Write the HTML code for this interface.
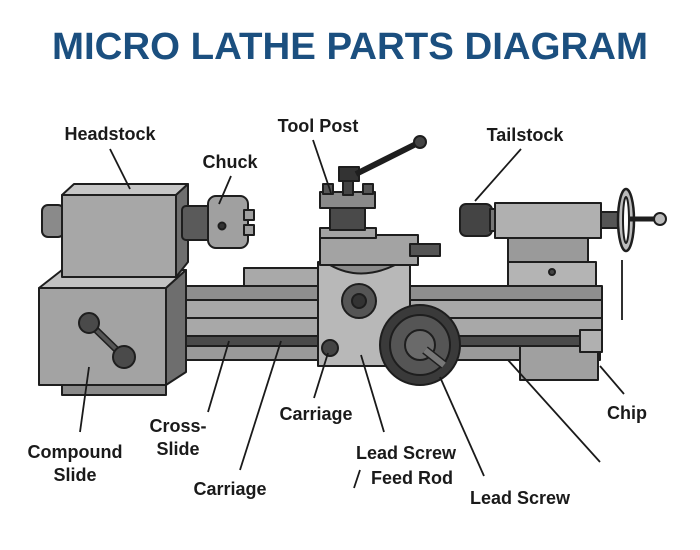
<!DOCTYPE html>
<html><head><meta charset="utf-8"><style>
html,body{margin:0;padding:0;background:#fff;}
svg{display:block;}
text{font-family:"Liberation Sans",sans-serif;font-weight:bold;}
</style></head><body>
<svg width="700" height="550" viewBox="0 0 700 550" xmlns="http://www.w3.org/2000/svg">
<rect width="700" height="550" fill="#fff"/>
<text x="350" y="59" text-anchor="middle" font-size="38" fill="#1b4f7f" textLength="596" lengthAdjust="spacingAndGlyphs">MICRO LATHE PARTS DIAGRAM</text>

<g stroke="#1e1e1e" stroke-width="2" stroke-linejoin="round">
<!-- bed back rail -->
<rect x="244" y="268" width="78" height="22" fill="#a9a9a9"/>
<!-- tailstock base -->
<rect x="508" y="236" width="80" height="30" fill="#9a9a9a"/>
<rect x="508" y="262" width="88" height="30" fill="#b4b4b4"/>
<circle cx="552" cy="272" r="3" fill="#444"/>
<!-- bed -->
<rect x="172" y="286" width="430" height="14" fill="#8e8e8e"/>
<rect x="172" y="300" width="430" height="36" fill="#a8a8a8"/>
<line x1="172" y1="318" x2="602" y2="318"/>
<rect x="170" y="336" width="430" height="10" fill="#4a4a4a"/>
<rect x="172" y="346" width="428" height="14" fill="#9a9a9a"/>
<rect x="520" y="346" width="78" height="34" fill="#a0a0a0"/>
<rect x="580" y="330" width="22" height="22" fill="#b0b0b0"/>
<!-- headstock lower -->
<polygon points="39,288 62,270 186,270 166,288" fill="#c2c2c2"/>
<polygon points="166,288 186,270 186,372 166,385" fill="#6e6e6e"/>
<rect x="39" y="288" width="127" height="97" fill="#a3a3a3"/>
<rect x="62" y="385" width="104" height="10" fill="#8a8a8a"/>
<!-- headstock top -->
<rect x="42" y="205" width="22" height="32" rx="6" fill="#8a8a8a"/>
<polygon points="62,195 74,184 188,184 176,195" fill="#c6c6c6"/>
<polygon points="176,195 188,184 188,262 176,277" fill="#6e6e6e"/>
<rect x="62" y="195" width="114" height="82" fill="#a7a7a7"/>
<!-- handle -->
<line x1="89" y1="323" x2="124" y2="357" stroke-width="7"/>
<line x1="89" y1="323" x2="124" y2="357" stroke="#555" stroke-width="4"/>
<circle cx="89" cy="323" r="10" fill="#4a4a4a"/>
<circle cx="124" cy="357" r="11" fill="#4a4a4a"/>
<!-- chuck -->
<rect x="182" y="206" width="30" height="34" rx="4" fill="#5a5a5a"/>
<rect x="208" y="196" width="40" height="52" rx="8" fill="#a0a0a0"/>
<rect x="244" y="210" width="10" height="10" fill="#a0a0a0"/>
<rect x="244" y="225" width="10" height="10" fill="#a0a0a0"/>
<circle cx="222" cy="226" r="3.5" fill="#333"/>
<!-- carriage apron -->
<rect x="318" y="262" width="92" height="104" fill="#b8b8b8"/>
<!-- saddle / compound -->
<path d="M330,265 Q360,282 395,265 Z" fill="#8a8a8a"/>
<rect x="320" y="235" width="98" height="30" fill="#a3a3a3"/>
<rect x="410" y="244" width="30" height="12" fill="#555"/>
<rect x="320" y="228" width="56" height="10" fill="#a3a3a3"/>
<!-- tool post -->
<rect x="330" y="208" width="35" height="22" fill="#4a4a4a"/>
<rect x="320" y="192" width="55" height="16" fill="#8a8a8a"/>
<rect x="323" y="184" width="10" height="10" fill="#555"/>
<rect x="363" y="184" width="10" height="10" fill="#555"/>
<rect x="343" y="170" width="10" height="25" fill="#444"/>
<rect x="339" y="167" width="20" height="14" fill="#333"/>
<line x1="356" y1="174" x2="418" y2="143" stroke-width="6"/>
<circle cx="420" cy="142" r="6" fill="#444"/>
<!-- cross-slide wheel -->
<circle cx="359" cy="301" r="17" fill="#555"/>
<circle cx="359" cy="301" r="7" fill="#333"/>
<circle cx="330" cy="348" r="8" fill="#444"/>
<!-- big handwheel -->
<circle cx="420" cy="345" r="40" fill="#3a3a3a"/>
<circle cx="420" cy="345" r="30" fill="#555"/>
<circle cx="420" cy="345" r="15" fill="#6a6a6a"/>
<line x1="425" y1="350" x2="444" y2="365" stroke-width="9"/>
<line x1="425" y1="350" x2="444" y2="365" stroke="#777" stroke-width="6"/>
<!-- tailstock -->
<rect x="460" y="204" width="32" height="32" rx="6" fill="#444"/>
<rect x="490" y="209" width="8" height="22" fill="#777"/>
<rect x="495" y="203" width="106" height="35" fill="#b0b0b0"/>
<rect x="601" y="212" width="20" height="16" fill="#555"/>
<ellipse cx="626" cy="220" rx="8" ry="31" fill="#bbb" stroke-width="2.5"/>
<ellipse cx="626" cy="220" rx="3" ry="23" fill="#fff"/>
<line x1="630" y1="219" x2="656" y2="219" stroke-width="5"/>
<circle cx="660" cy="219" r="6" fill="#bbb"/>
</g>

<!-- leader lines -->
<g stroke="#1a1a1a" stroke-width="1.8" fill="none">
<line x1="110" y1="149" x2="130" y2="189"/>
<line x1="231" y1="176" x2="219" y2="204"/>
<line x1="313" y1="140" x2="331" y2="193"/>
<line x1="521" y1="149" x2="475" y2="201"/>
<line x1="622" y1="260" x2="622" y2="320"/>
<line x1="89" y1="367" x2="80" y2="432"/>
<line x1="229" y1="341" x2="208" y2="412"/>
<line x1="281" y1="341" x2="240" y2="470"/>
<line x1="328" y1="353" x2="314" y2="398"/>
<line x1="361" y1="355" x2="384" y2="432"/>
<line x1="440" y1="377" x2="484" y2="476"/>
<line x1="508" y1="360" x2="600" y2="462"/>
<line x1="600" y1="366" x2="624" y2="394"/>
<line x1="360" y1="470" x2="354" y2="488"/>
</g>

<g font-size="18" fill="#1a1a1a" text-anchor="middle">
<text x="110" y="140">Headstock</text>
<text x="230" y="168">Chuck</text>
<text x="318" y="132">Tool Post</text>
<text x="525" y="141">Tailstock</text>
<text x="75" y="458">Compound</text>
<text x="75" y="481">Slide</text>
<text x="178" y="432">Cross-</text>
<text x="178" y="455">Slide</text>
<text x="316" y="420">Carriage</text>
<text x="230" y="495">Carriage</text>
<text x="406" y="459">Lead Screw</text>
<text x="412" y="484">Feed Rod</text>
<text x="520" y="504">Lead Screw</text>
<text x="627" y="419">Chip</text>
</g>
</svg>
</body></html>
